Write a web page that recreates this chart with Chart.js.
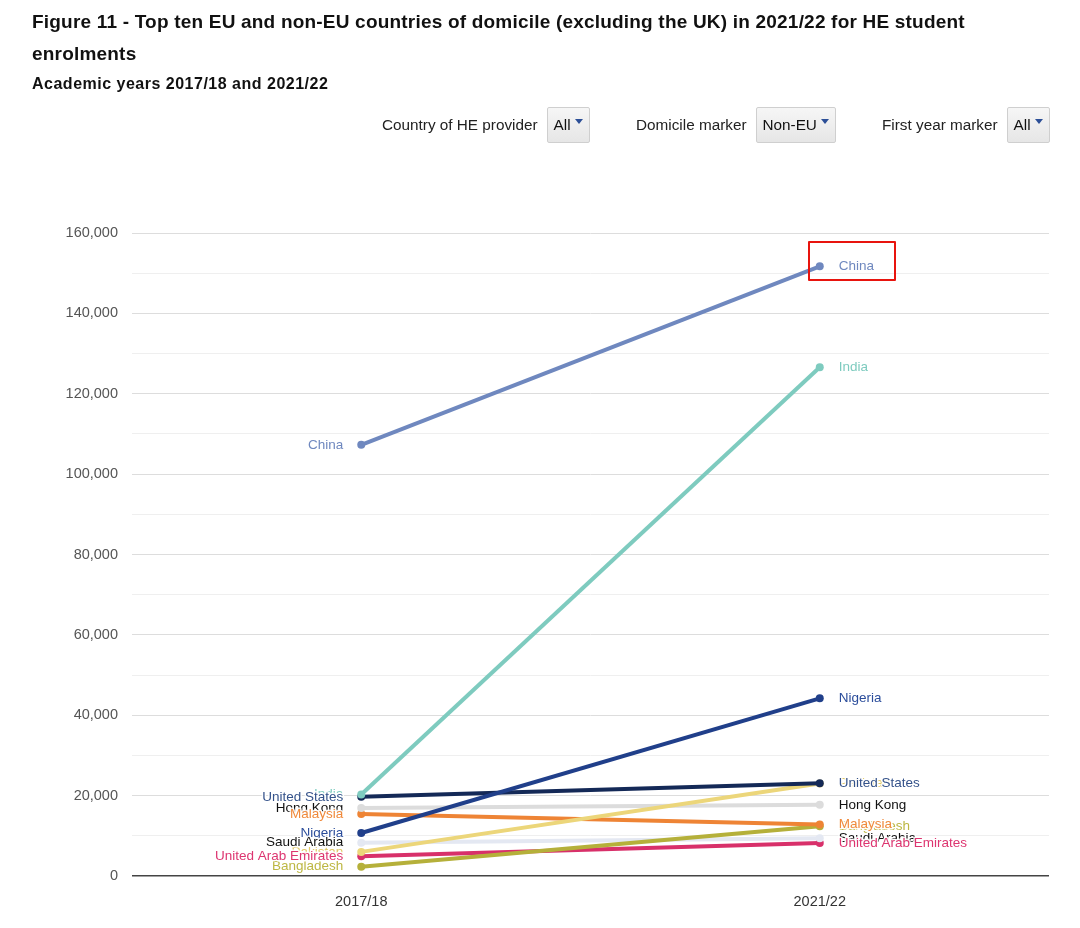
<!DOCTYPE html>
<html lang="en">
<head>
    <meta charset="UTF-8">
    <title>Figure 11 - Top ten non-EU countries of domicile</title>
    <script src="https://cdn.jsdelivr.net/npm/chart.js"></script>
    <style>
        body { margin: 0; width: 1080px; height: 928px; position: relative; background: #fff;
               font-family: 'Liberation Sans', Arial, sans-serif; color: #111; overflow: hidden; }
        #chart { position: absolute; left: 0; top: 0; }
        .title { position: absolute; left: 32px; top: 6px; width: 990px; font-weight: bold;
                 font-size: 19px; letter-spacing: 0.2px; line-height: 32px; }
        .subtitle { position: absolute; left: 32px; top: 75px; font-weight: bold; font-size: 16px;
                    letter-spacing: 0.5px; line-height: 18px; }
        .ctrl { position: absolute; top: 107px; height: 36px; display: flex; align-items: center;
                font-size: 15.3px; color: #222; }
        .ctrl .box { margin-left: 9px; height: 34px; border: 1px solid #cfcfcf; border-radius: 2px;
                     background: linear-gradient(#f6f6f6, #e6e6e6); display: flex; align-items: center;
                     padding: 0 6px 0 6px; color: #111; }
        .ctrl .arrow { margin-left: 4px; width: 0; height: 0; border-left: 4px solid transparent;
                       border-right: 4px solid transparent; border-top: 5px solid #2c4f97; position: relative; top: -4px; }
    </style>
</head>
<body>
    <canvas id="chart" width="1080" height="928"></canvas>
    <div class="title">Figure 11 - Top ten EU and non-EU countries of domicile (excluding the UK) in 2021/22 for HE student enrolments</div>
    <div class="subtitle">Academic years 2017/18 and 2021/22</div>

    <div class="ctrl" style="left:382px">Country of HE provider<span class="box">All<span class="arrow"></span></span></div>
    <div class="ctrl" style="left:636px">Domicile marker<span class="box">Non-EU<span class="arrow"></span></span></div>
    <div class="ctrl" style="left:882px">First year marker<span class="box">All<span class="arrow"></span></span></div>

    <script>
        // --- data ---
        const years = ['2017/18', '2021/22'];
        const countries = ['China', 'India', 'Nigeria', 'United States', 'Pakistan', 'Hong Kong',
                           'Malaysia', 'Bangladesh', 'Saudi Arabia', 'United Arab Emirates'];
        const enrol1718 = [107300, 20300, 10700, 19700, 6000, 16900, 15400, 2300, 8300, 4900];
        const enrol2122 = [151700, 126600, 44200, 23100, 23000, 17700, 12800, 12400, 9400, 8200];
        const yTicks = [0, 20000, 40000, 60000, 80000, 100000, 120000, 140000, 160000];

        // --- styles ---
        const lineColours = ['#6f88bf', '#7ecbbf', '#203f8a', '#142957', '#ecd67a', '#dcdcdc',
                             '#ee8435', '#b5b03a', '#e4e8f2', '#d8306a'];
        const textColours = ['#6f88bf', '#7ecbbf', '#2b4d9b', '#34528a', '#e0c865', '#111111',
                             '#f08a3c', '#bdb743', '#111111', '#dd3570'];
        // label draw order (later = on top)
        const labelOrder = [1, 0, 2, 4, 3, 5, 6, 7, 9, 8];
        const labelOrderRight = [1, 0, 2, 4, 3, 5, 7, 6, 8, 9];

        const FONT = "'Liberation Sans', Arial, sans-serif";

        const endLabels = {
            id: 'endLabels',
            afterDatasetsDraw(chart) {
                const ctx = chart.ctx;
                ctx.save();
                ctx.font = '13.5px ' + FONT;
                ctx.textBaseline = 'middle';
                ctx.lineJoin = 'round';
                ctx.lineWidth = 3;
                ctx.strokeStyle = 'rgba(255,255,255,0.9)';
                const draw = (order, idx, side) => {
                    order.forEach(i => {
                        const p = chart.getDatasetMeta(i).data[idx];
                        const x = side === 'left' ? p.x - 18 : p.x + 19;
                        ctx.textAlign = side === 'left' ? 'right' : 'left';
                        ctx.strokeText(countries[i], x, p.y);
                        ctx.fillStyle = textColours[i];
                        ctx.fillText(countries[i], x, p.y);
                    });
                };
                draw(labelOrder, 0, 'left');
                draw(labelOrderRight, 1, 'right');

                // red highlight box around the China 2021/22 label
                const c = chart.getDatasetMeta(0).data[1];
                ctx.strokeStyle = '#e8140e';
                ctx.lineWidth = 2;
                ctx.strokeRect(Math.round(c.x) - 11, Math.round(c.y) - 24, 86, 38);
                ctx.restore();
            }
        };

        new Chart(document.getElementById('chart'), {
            type: 'line',
            data: {
                labels: years,
                datasets: countries.map((name, i) => ({
                    label: name,
                    data: [enrol1718[i], enrol2122[i]],
                    borderColor: lineColours[i],
                    backgroundColor: lineColours[i],
                    borderWidth: 4,
                    pointRadius: 4,
                    pointBorderWidth: 0,
                    fill: false,
                    tension: 0
                }))
            },
            options: {
                responsive: false,
                animation: false,
                layout: { padding: { top: 233, right: 31, bottom: 0, left: 0 } },
                plugins: { legend: { display: false }, tooltip: { enabled: false } },
                scales: {
                    x: {
                        type: 'category',
                        offset: true,
                        grid: { display: false },
                        border: { display: false },
                        ticks: { color: '#333', font: { family: FONT, size: 14.5 }, padding: 9 },
                        afterFit(s) { s.height = 52; }
                    },
                    y: {
                        min: 0,
                        max: 160000,
                        border: { display: false },
                        grid: {
                            drawTicks: false,
                            color: c => c.tick.value === 0 ? '#444' : (yTicks.includes(c.tick.value) ? '#dddddd' : '#efefef'),
                            lineWidth: c => c.tick.value === 0 ? 1.5 : 1
                        },
                        ticks: {
                            stepSize: 10000,
                            autoSkip: false,
                            padding: 14,
                            color: '#555',
                            font: { family: FONT, size: 14.5 },
                            callback: v => yTicks.includes(v) ? v.toLocaleString('en-US') : ''
                        },
                        afterFit(s) { s.width = 132; }
                    }
                }
            },
            plugins: [endLabels]
        });
    </script>
</body>
</html>
